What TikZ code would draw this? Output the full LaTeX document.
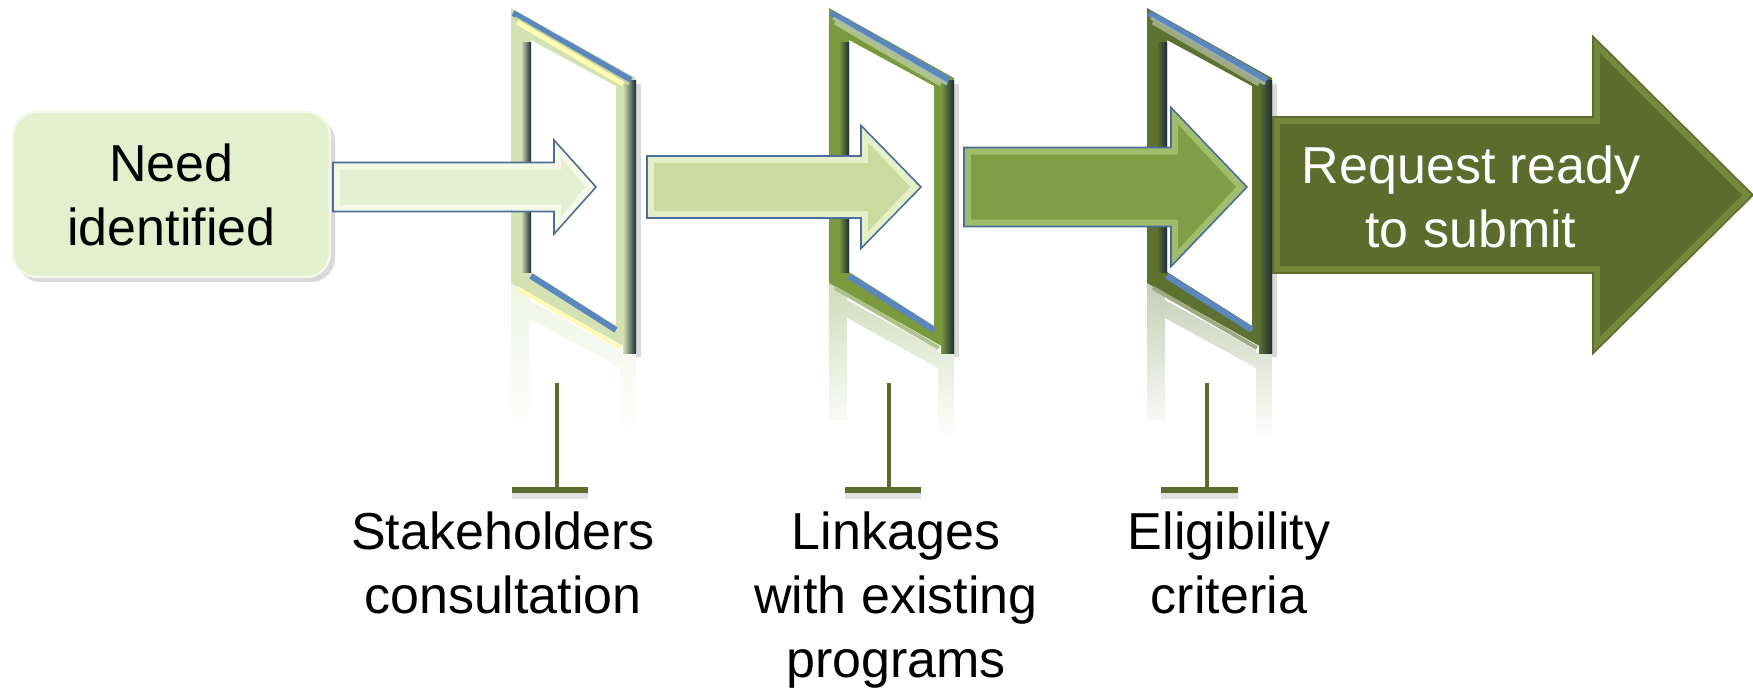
\documentclass[tikz,border=0pt]{standalone}
\usepackage{fontspec}
\setmainfont{Liberation Sans}
\definecolor{boxfill}{HTML}{E3EFCD}
\definecolor{boxedge}{HTML}{F3F8E8}
\definecolor{aonefill}{HTML}{E4EED2}
\definecolor{aonebev}{HTML}{F5F9E6}
\definecolor{atwofill}{HTML}{C9DB9E}
\definecolor{atwobev}{HTML}{E6F0C8}
\definecolor{athrfill}{HTML}{7F9E45}
\definecolor{athrbev}{HTML}{A1BC6A}
\definecolor{bigfill}{HTML}{5B6C2D}
\definecolor{bigbev}{HTML}{74893C}
\definecolor{fone}{HTML}{D3E1B3}
\definecolor{ftwo}{HTML}{7A9A3D}
\definecolor{fthr}{HTML}{5D7230}
\definecolor{arrowline}{HTML}{4A6F9C}
\definecolor{blueedge}{HTML}{5B86BE}
\definecolor{darkedge}{HTML}{1C2A3A}
\definecolor{olivec}{HTML}{5B6C2D}
\tikzset{
  lbl/.style={font=\fontsize{26}{32}\selectfont, align=center, anchor=base, inner sep=0pt, outer sep=0pt},
  needbox/.style={rounded corners=12pt, fill=boxfill, draw=boxedge, line width=1.2pt,
    minimum width=158.5pt, minimum height=82.5pt, inner sep=0pt,
    font=\fontsize{26}{32}\selectfont, align=center},
  tstem/.style={draw=olivec, line width=1.75pt},
  tbar/.style={draw=olivec, line width=3pt},
  tshadow/.style={draw=black, opacity=0.12, line width=3pt},
}
% #1 = left x, #2 = frame colour, #3 = highlight colour
\newcommand{\gateframe}[3]{%
  \shade[top color=#2!35!white, bottom color=white]
    (#1,283) -- (#1+18,293) -- (#1+18,300) -- (#1+109,350) -- (#1+109,353) -- (#1+125,353)
    -- (#1+125,440) -- (#1+109,440) -- (#1+109,368) -- (#1+18,318) -- (#1+18,420) -- (#1,420) -- cycle;
  \draw[line width=2.5pt, black, opacity=0.15] (#1+127.5,84) -- (#1+127.5,357);
  \fill[#2, even odd rule] (#1,8) -- (#1+125,78) -- (#1+125,353) -- (#1,283) -- cycle
    (#1+20,40) -- (#1+105,86) -- (#1+105,326) -- (#1+20,272) -- cycle;
  \shade[left color=#2, right color=darkedge] (#1+112,80) rectangle (#1+125,353);
  \shade[left color=#2, right color=darkedge] (#1+10,42) rectangle (#1+20,272);
  \draw[line width=3pt, blueedge, line cap=butt] (#1+2,13) -- (#1+120,80);
  \draw[line width=1.5pt, blueedge!50!#3, line cap=butt] (#1+4,18) -- (#1+118,84);
  \draw[line width=2.5pt, #3, line cap=butt] (#1+6,22) -- (#1+112,84);
  \draw[line width=3pt, blueedge, line cap=butt] (#1+20,276) -- (#1+105,330);
  \draw[line width=2pt, #3, line cap=butt] (#1+6,288) -- (#1+110,348);
}
% #1 a, #2 b, #3 tip x, #4 y0, #5 h, #6 H, #7 fill, #8 bevel, #9 outline
\newcommand{\blkarrow}[9]{%
  \filldraw[fill=#8, draw=#9, line width=0.8pt, line join=miter]
    (#1,#4-#5) -- (#2,#4-#5) -- (#2,#4-#6) -- (#3,#4) -- (#2,#4+#6) -- (#2,#4+#5) -- (#1,#4+#5) -- cycle;
  \fill[#7]
    (#1+7,#4-#5+7) -- (#2+7,#4-#5+7) -- (#2+7,#4-#6+17) -- (#3-11,#4) -- (#2+7,#4+#6-17)
    -- (#2+7,#4+#5-7) -- (#1+7,#4+#5-7) -- cycle;
}
\begin{document}
\begin{tikzpicture}[x=0.5pt,y=-0.5pt]
\useasboundingbox (0,0) rectangle (1753,691);
% frames
\gateframe{511}{fone}{white!70!yellow}
\gateframe{829}{ftwo}{ftwo!60!white}
\gateframe{1147}{fthr}{fthr!60!white}
% need box
\fill[black, opacity=0.15, rounded corners=12pt] (17,117) rectangle (335,282);
\node[needbox] (need) at (171.5,194.5) {Need\\identified};
% arrows
\blkarrow{333}{554}{596}{187}{24.5}{47}{aonefill}{aonebev}{arrowline}
\blkarrow{647}{861}{921}{187}{31}{61.5}{atwofill}{atwobev}{arrowline}
\blkarrow{964}{1171}{1247}{187}{39.5}{79.5}{athrfill}{athrbev}{arrowline}
\blkarrow{1273}{1593}{1753}{195}{78}{158.5}{bigfill}{bigbev}{bigfill}
\node[lbl, text=white] (req) at (1471,247) {Request ready\\to submit};
% T bars
\coordinate (tonetop) at (557,383);
\coordinate (tonebot) at (557,488);
\coordinate (tonel) at (512,490);
\coordinate (toner) at (588,490);
\coordinate (ttwotop) at (889,383);
\coordinate (ttwobot) at (889,488);
\coordinate (ttwol) at (845,490);
\coordinate (ttwor) at (921,490);
\coordinate (tthrtop) at (1207,383);
\coordinate (tthrbot) at (1207,488);
\coordinate (tthrl) at (1161,490);
\coordinate (tthrr) at (1238,490);
\draw[tshadow] ([yshift=-3pt]tonel) -- ([yshift=-3pt]toner);
\draw[tshadow] ([yshift=-3pt]ttwol) -- ([yshift=-3pt]ttwor);
\draw[tshadow] ([yshift=-3pt]tthrl) -- ([yshift=-3pt]tthrr);
\draw[tstem] (tonetop) -- (tonebot);
\draw[tbar] (tonel) -- (toner);
\draw[tstem] (ttwotop) -- (ttwobot);
\draw[tbar] (ttwol) -- (ttwor);
\draw[tstem] (tthrtop) -- (tthrbot);
\draw[tbar] (tthrl) -- (tthrr);
% labels
\node[lbl] (stake) at (503,613) {Stakeholders\\consultation};
\node[lbl] (link) at (896,677) {Linkages\\with existing\\programs};
\node[lbl] (elig) at (1229,613) {Eligibility\\criteria};
\end{tikzpicture}
\end{document}
